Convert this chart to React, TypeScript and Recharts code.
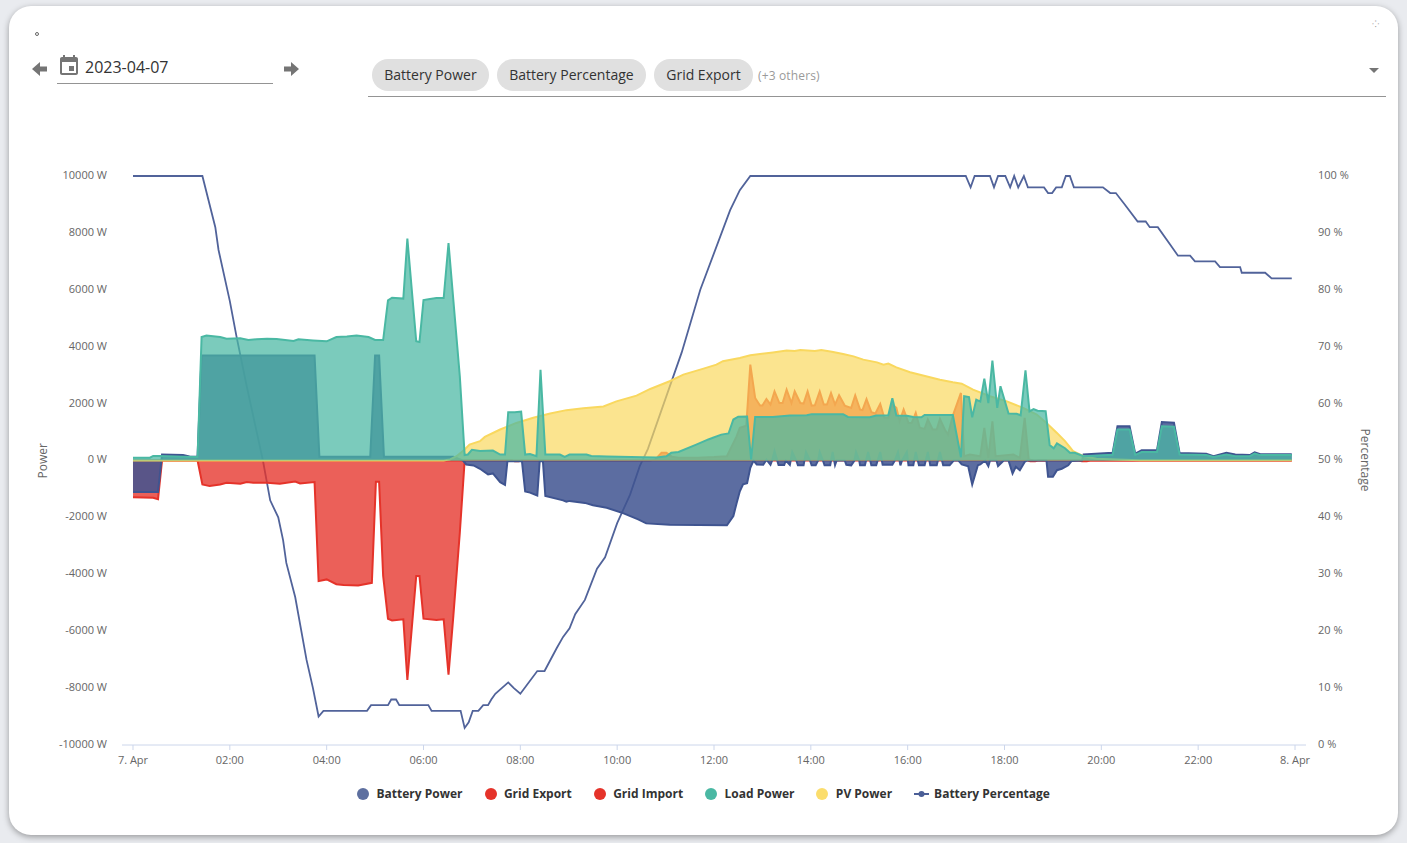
import { Area, CartesianGrid, ComposedChart, Legend, Line, XAxis, YAxis } from "recharts";

type Point = [number, number]; // minute of day, value

const xTicks = [0, 120, 240, 360, 480, 600, 720, 840, 960, 1080, 1200, 1320, 1440];
const powerTicks = [-10000, -8000, -6000, -4000, -2000, 0, 2000, 4000, 6000, 8000, 10000];
const percentTicks = [0, 10, 20, 30, 40, 50, 60, 70, 80, 90, 100];
const chips = ["Battery Power", "Battery Percentage", "Grid Export"];

const batteryPower: Point[] = [
  [0, -1110], [31, -1110], [36, 210], [62, 190], [70, 140], [80, 130], [85, 3690], [225, 3690], [231, 130], [294, 130],
  [300, 3690], [305, 3690], [311, 130], [397, 130], [409, 0], [413, -140], [422, -175], [430, -290], [440, -490], [446, -455],
  [455, -760], [461, -855], [464, -25], [482, -25], [486, -1090], [492, -1130], [501, -1230], [504, -25], [508, -25], [511, -1250],
  [533, -1400], [537, -1450], [541, -1420], [560, -1490], [570, -1570], [587, -1660], [608, -1860], [626, -2070], [636, -2210], [665, -2260],
  [736, -2280], [744, -1950], [748, -1500], [752, -1080], [756, -840], [761, -800], [765, -260], [769, 0], [773, -140], [781, -150],
  [785, 30], [790, -150], [792, 0], [795, 330], [800, -160], [807, -160], [809, 0], [814, -150], [817, 300], [822, 0],
  [824, -170], [831, -170], [834, 300], [839, 0], [841, -170], [846, -170], [849, 0], [851, 300], [855, 0], [857, -170],
  [864, -170], [867, 300], [870, -160], [872, 0], [882, 0], [884, -150], [890, -170], [894, 0], [896, 300], [900, 0],
  [901, -170], [907, -170], [911, 300], [915, -170], [921, -170], [926, 300], [929, -150], [941, -150], [944, 0], [948, 300],
  [951, -170], [953, 0], [959, 300], [961, -170], [967, -170], [970, 300], [974, -170], [981, -170], [985, 300], [988, -170],
  [996, -170], [1000, 300], [1004, -170], [1012, -170], [1017, 0], [1023, 0], [1027, -140], [1035, -200], [1040, -840], [1047, -170],
  [1050, -140], [1056, 0], [1060, -200], [1062, 0], [1070, 0], [1072, -200], [1079, 0], [1085, 0], [1090, -455],
  [1094, -220], [1099, -340], [1105, -50], [1108, 0], [1132, 0], [1134, -570], [1140, -570], [1145, -340], [1151, -290],
  [1159, -170], [1163, -20], [1176, 0], [1178, 210], [1214, 270], [1220, 1200], [1235, 1200], [1242, 240], [1250, 360], [1269, 360],
  [1275, 1350], [1290, 1330], [1297, 260], [1330, 235], [1339, 150], [1355, 270], [1366, 210], [1384, 190], [1390, 290], [1397, 220],
  [1436, 220],
];

const gridExport: Point[] = [
  [0, 0], [640, 0], [647, 30], [655, 270], [661, 270], [668, 130], [676, 100], [700, 100], [720, 120], [736, 150],
  [748, 850], [752, 1150], [760, 1220], [765, 3370], [771, 2200], [777, 1930], [780, 1930], [785, 2160], [790, 1965], [795, 2430],
  [801, 2020], [805, 2020], [810, 2490], [816, 2020], [820, 2430], [827, 2020], [831, 2000], [836, 2430], [841, 1930], [845, 1940],
  [851, 2430], [856, 1965], [860, 1965], [865, 2370], [870, 1965], [875, 2290], [882, 1930], [890, 1850], [895, 2290], [901, 1790],
  [904, 1770], [909, 2160], [915, 1700], [920, 1650], [926, 1990], [931, 1500], [936, 1500], [941, 1965], [946, 1850], [950, 1380],
  [955, 1790], [961, 1320], [965, 1320], [970, 1670], [975, 1150], [981, 1110], [985, 1440], [991, 1090], [996, 1090], [1000, 1460],
  [1006, 1090], [1010, 910], [1016, 1580], [1026, 2375], [1030, 150], [1037, 210], [1050, 150], [1055, 1150], [1060, 95], [1065, 1380],
  [1069, 150], [1091, 210], [1099, 95], [1105, 1500], [1110, 35], [1116, 0], [1436, 0],
];

const gridImport: Point[] = [
  [0, -1290], [25, -1310], [31, -1360], [36, 0], [80, 0], [86, -840], [95, -900], [108, -840], [116, -785], [133, -820],
  [141, -760], [149, -785], [166, -785], [182, -820], [201, -740], [207, -810], [225, -760], [230, -4240], [240, -4180], [252, -4350],
  [261, -4380], [279, -4390], [296, -4300], [301, -750], [305, -750], [310, -4060], [316, -5560], [321, -5620], [335, -5580], [340, -7710],
  [351, -4060], [355, -4060], [360, -5560], [376, -5610], [385, -5580], [391, -7530], [397, -5460], [405, -2540], [411, 0], [470, 0],
  [473, -30], [478, -30], [481, 0], [1108, 0], [1112, -30], [1118, -30], [1121, 0], [1172, 0], [1176, -30], [1182, -30],
  [1186, 0], [1436, 0],
];

const loadPower: Point[] = [
  [0, 100], [21, 100], [25, 160], [33, 160], [62, 130], [80, 120], [85, 4340], [91, 4390], [108, 4340], [116, 4280],
  [133, 4300], [143, 4235], [153, 4260], [166, 4280], [178, 4270], [199, 4200], [205, 4260], [223, 4220], [240, 4190], [252, 4340],
  [265, 4360], [277, 4390], [292, 4340], [300, 4235], [310, 4235], [316, 5630], [321, 5720], [335, 5690], [340, 7800], [351, 4190],
  [355, 4165], [360, 5640], [368, 5680], [376, 5710], [385, 5710], [391, 7640], [405, 2960], [411, 190], [415, 210], [420, 375],
  [430, 330], [446, 350], [455, 210], [461, 210], [465, 1700], [473, 1700], [481, 1720], [486, 210], [492, 230], [500, 150],
  [505, 3190], [511, 210], [517, 210], [529, 210], [535, 130], [541, 210], [562, 210], [568, 160], [587, 140], [632, 115],
  [649, 105], [661, 150], [667, 270], [676, 300], [698, 560], [713, 740], [717, 780], [729, 910], [738, 950], [744, 1440],
  [750, 1540], [761, 1545], [766, 35], [771, 1530], [793, 1530], [814, 1580], [835, 1590], [841, 1630], [880, 1630], [886, 1530],
  [913, 1520], [921, 1580], [936, 1590], [941, 2190], [946, 1580], [959, 1570], [967, 1530], [977, 1520], [981, 1600], [1016, 1600],
  [1026, 115], [1030, 2260], [1036, 2230], [1040, 1520], [1045, 2140], [1050, 2070], [1055, 2880], [1060, 2020], [1065, 3510], [1071, 1850],
  [1075, 2610], [1085, 1650], [1095, 1640], [1100, 1590], [1106, 3170], [1111, 1730], [1116, 1810], [1121, 1750], [1131, 1730], [1136, 540],
  [1141, 430], [1145, 600], [1155, 430], [1161, 270], [1167, 270], [1178, 150], [1214, 200], [1220, 1090], [1235, 1090], [1242, 200],
  [1250, 300], [1269, 300], [1275, 1200], [1290, 1190], [1297, 210], [1330, 190], [1339, 120], [1355, 210], [1366, 150], [1384, 150],
  [1390, 245], [1397, 190], [1436, 190],
];

const pvPower: Point[] = [
  [0, 0], [385, 0], [393, 40], [401, 150], [411, 390], [417, 560], [430, 680], [436, 830], [455, 1090], [475, 1320],
  [496, 1500], [517, 1650], [537, 1770], [558, 1840], [583, 1900], [599, 2080], [624, 2280], [641, 2515], [665, 2785], [682, 3020],
  [707, 3230], [723, 3370], [731, 3490], [752, 3600], [765, 3700], [777, 3740], [793, 3800], [810, 3870], [820, 3850], [827, 3880],
  [845, 3850], [853, 3880], [866, 3825], [880, 3745], [893, 3660], [905, 3545], [922, 3450], [930, 3370], [936, 3405], [946, 3275],
  [963, 3100], [979, 2985], [1000, 2840], [1016, 2750], [1027, 2700], [1041, 2490], [1062, 2260], [1083, 2080], [1103, 1850], [1120, 1615],
  [1132, 1320], [1145, 970], [1155, 680], [1165, 330], [1178, 150], [1194, 60], [1219, 35], [1248, 10], [1436, 10],
];

const batteryPercentage: Point[] = [
  [0, 100], [86, 100], [102, 91], [106, 87], [120, 78], [128, 72], [141, 63], [161, 50], [170, 43], [180, 40],
  [186, 36], [190, 32], [201, 26], [215, 15], [223, 10], [230, 5], [236, 6], [290, 6], [295, 7], [316, 7],
  [320, 8], [326, 8], [330, 7], [366, 7], [370, 6], [406, 6], [411, 3], [416, 4], [421, 6], [428, 6],
  [434, 7], [440, 7], [444, 8], [449, 9], [465, 11], [472, 10], [480, 9], [501, 13], [510, 13], [525, 17],
  [533, 19], [541, 20.5], [548, 23], [560, 25.5], [575, 31], [585, 33], [600, 39], [616, 44], [628, 49], [638, 52],
  [680, 69], [703, 80], [740, 94], [752, 97.5], [765, 100], [1032, 100], [1038, 98], [1043, 100], [1062, 100], [1067, 98],
  [1072, 100], [1081, 100], [1087, 98], [1092, 100], [1097, 98], [1104, 100], [1109, 98], [1129, 98], [1134, 97], [1139, 97],
  [1144, 98], [1151, 98], [1156, 100], [1161, 100], [1166, 98], [1202, 98], [1211, 97], [1218, 97], [1229, 95], [1245, 92],
  [1255, 92], [1260, 91], [1270, 91], [1285, 88], [1295, 86], [1310, 86], [1316, 85], [1341, 85], [1347, 84], [1372, 84],
  [1374, 83], [1403, 83], [1411, 82], [1436, 82],
];

const batteryColor = "#3f5490";
const exportColor = "#e5332a";
const importColor = "#e5332a";
const loadColor = "#4ab8a3";
const pvColor = "#f9d85f";
const percentColor = "#51639a";

const legendItems = [
  { label: "Battery Power", color: "#5d6f9f", line: false },
  { label: "Grid Export", color: exportColor, line: false },
  { label: "Grid Import", color: importColor, line: false },
  { label: "Load Power", color: loadColor, line: false },
  { label: "PV Power", color: "#fbdd6c", line: false },
  { label: "Battery Percentage", color: "#4b5f97", line: true },
];

const seriesByKey: Record<string, Point[]> = { batteryPower, gridExport, gridImport, loadPower, pvPower, batteryPercentage };

// one row per minute that any series has a reading for, gaps are bridged by connectNulls
const rows = [...new Set(Object.values(seriesByKey).flatMap((s) => s.map((p) => p[0])))]
  .sort((a, b) => a - b)
  .map((t) => {
    const row: Record<string, number> = { t };
    for (const key of Object.keys(seriesByKey)) {
      const hit = seriesByKey[key].find((p) => p[0] === t);
      if (hit) row[key] = hit[1];
    }
    return row;
  });

const formatTime = (t: number) => {
  if (t === 0) return "7. Apr";
  if (t === 1440) return "8. Apr";
  return `${String(t / 60).padStart(2, "0")}:00`;
};

const renderLegend = () => (
  <div style={{ display: "flex", justifyContent: "center", fontFamily: "'Open Sans'", fontSize: 12, fontWeight: 700, color: "#333" }}>
    {legendItems.map((item) => (
      <div key={item.label} style={{ display: "flex", alignItems: "center", marginRight: item.line ? 0 : 22 }}>
        {item.line ? (
          <svg width={15} height={12} style={{ marginRight: 5 }}>
            <line x1={0} x2={15} y1={6} y2={6} stroke={item.color} strokeWidth={2} />
            <circle cx={7.5} cy={6} r={3} fill={item.color} />
          </svg>
        ) : (
          <span style={{ width: 12, height: 12, borderRadius: 6, background: item.color, marginRight: 7.4 }} />
        )}
        {item.label}
      </div>
    ))}
  </div>
);

export default function App() {
  return (
    <div style={{ position: "absolute", left: 0, top: 0, width: 1407, height: 843, background: "#e9ebef", overflow: "hidden", fontFamily: "'Open Sans'" }}>
      <div style={{ position: "absolute", left: 9, top: 6, width: 1389, height: 829, background: "#fff", borderRadius: 22, boxShadow: "0 2px 6px rgba(0,0,0,0.35)" }} />
      <div style={{ position: "absolute", left: 35, top: 32, width: 4, height: 4, border: "1px solid #666", borderRadius: 3, boxSizing: "border-box" }} />
      <div style={{ position: "absolute", left: 1372, top: 17, fontSize: 9, color: "#888" }}>⁘</div>

      <svg style={{ position: "absolute", left: 27.5, top: 57 }} width={24} height={24} viewBox="0 0 24 24">
        <path d="M19 9.5h-7V5l-8 7 8 7v-4.5h7z" fill="#757575" />
      </svg>
      <svg style={{ position: "absolute", left: 57, top: 54 }} width={24} height={24} viewBox="0 0 24 24">
        <path d="M17 12h-5v5h5v-5zM16 1v2H8V1H6v2H5c-1.1 0-2 .9-2 2v14c0 1.1.9 2 2 2h14c1.1 0 2-.9 2-2V5c0-1.1-.9-2-2-2h-1V1h-2zm3 18H5V8h14v11z" fill="#757575" />
      </svg>
      <div style={{ position: "absolute", left: 85, top: 56, fontSize: 16, color: "#333" }}>2023-04-07</div>
      <div style={{ position: "absolute", left: 57, top: 83, width: 216, height: 1, background: "#949494" }} />
      <svg style={{ position: "absolute", left: 278.5, top: 57 }} width={24} height={24} viewBox="0 0 24 24">
        <path d="M5 9.5h7V5l8 7-8 7v-4.5H5z" fill="#757575" />
      </svg>

      <div style={{ position: "absolute", left: 372, top: 59, display: "flex", alignItems: "center" }}>
        {chips.map((chip) => (
          <div key={chip} style={{ height: 32, lineHeight: "32px", padding: "0 12.3px", borderRadius: 16, background: "#e0e0e0", fontSize: 14, color: "#333", marginRight: 8 }}>
            {chip}
          </div>
        ))}
        <span style={{ fontSize: 12, color: "#9a9a9a", marginLeft: -3, letterSpacing: 0.15 }}>(+3 others)</span>
      </div>
      <svg style={{ position: "absolute", left: 1369, top: 68 }} width={10} height={5}>
        <path d="M0 0h10L5 5z" fill="#757575" />
      </svg>
      <div style={{ position: "absolute", left: 368, top: 96, width: 1018, height: 1, background: "#949494" }} />

      <div style={{ position: "absolute", left: 0, top: 0 }}>
        <ComposedChart width={1407} height={843} data={rows} margin={{ top: 176, right: 41, bottom: 51, left: 42 }}>
          <CartesianGrid vertical={false} stroke="#e6e6e6" horizontalValues={powerTicks} />
          <XAxis
            xAxisId="time"
            dataKey="t"
            type="number"
            domain={[-13.63, 1453.63]}
            ticks={xTicks}
            tickFormatter={formatTime}
            interval={0}
            tickSize={5}
            tickMargin={6}
            tick={{ fontSize: 11, fill: "#666", fontFamily: "'Open Sans'" }}
            stroke="#ccd6eb"
          />
          <YAxis
            yAxisId="power"
            width={80}
            domain={[-10000, 10000]}
            ticks={powerTicks}
            interval={0}
            tickFormatter={(v: number) => `${v} W`}
            axisLine={false}
            tickLine={false}
            tickSize={0}
            tickMargin={15}
            tick={{ fontSize: 11, fill: "#666", fontFamily: "'Open Sans'", dy: -1 }}
            label={{ value: "Power", angle: -90, position: "insideLeft", offset: 0, dx: 1, dy: 18, fontSize: 12, fill: "#666", fontFamily: "'Open Sans'" }}
          />
          <YAxis
            yAxisId="percent"
            orientation="right"
            width={60}
            domain={[0, 100]}
            ticks={percentTicks}
            interval={0}
            tickFormatter={(v: number) => `${v} %`}
            axisLine={false}
            tickLine={false}
            tickSize={0}
            tickMargin={12}
            tick={{ fontSize: 11, fill: "#666", fontFamily: "'Open Sans'", dy: -1 }}
            label={{ value: "Percentage", angle: 90, position: "insideRight", offset: 0, dx: -1, dy: 31, fontSize: 12, fill: "#666", fontFamily: "'Open Sans'" }}
          />
          <Line xAxisId="time" yAxisId="percent" dataKey="batteryPercentage" stroke={percentColor} strokeWidth={1.8} dot={false} connectNulls isAnimationActive={false} zIndex={50} />
          <Area xAxisId="time" yAxisId="power" dataKey="gridExport" stroke={exportColor} strokeWidth={2} fill={exportColor} fillOpacity={0.78} connectNulls isAnimationActive={false} />
          <Area xAxisId="time" yAxisId="power" dataKey="gridImport" stroke={importColor} strokeWidth={2} fill={importColor} fillOpacity={0.78} connectNulls isAnimationActive={false} />
          <Area xAxisId="time" yAxisId="power" dataKey="batteryPower" stroke={batteryColor} strokeWidth={2} fill={batteryColor} fillOpacity={0.85} connectNulls isAnimationActive={false} />
          <Area xAxisId="time" yAxisId="power" dataKey="pvPower" stroke={pvColor} strokeWidth={2} fill={pvColor} fillOpacity={0.7} connectNulls isAnimationActive={false} />
          <Area xAxisId="time" yAxisId="power" dataKey="loadPower" stroke={loadColor} strokeWidth={2} fill={loadColor} fillOpacity={0.73} connectNulls isAnimationActive={false} />
          <Legend content={renderLegend} wrapperStyle={{ left: 0, width: 1407, top: 785 }} />
        </ComposedChart>
      </div>
    </div>
  );
}
